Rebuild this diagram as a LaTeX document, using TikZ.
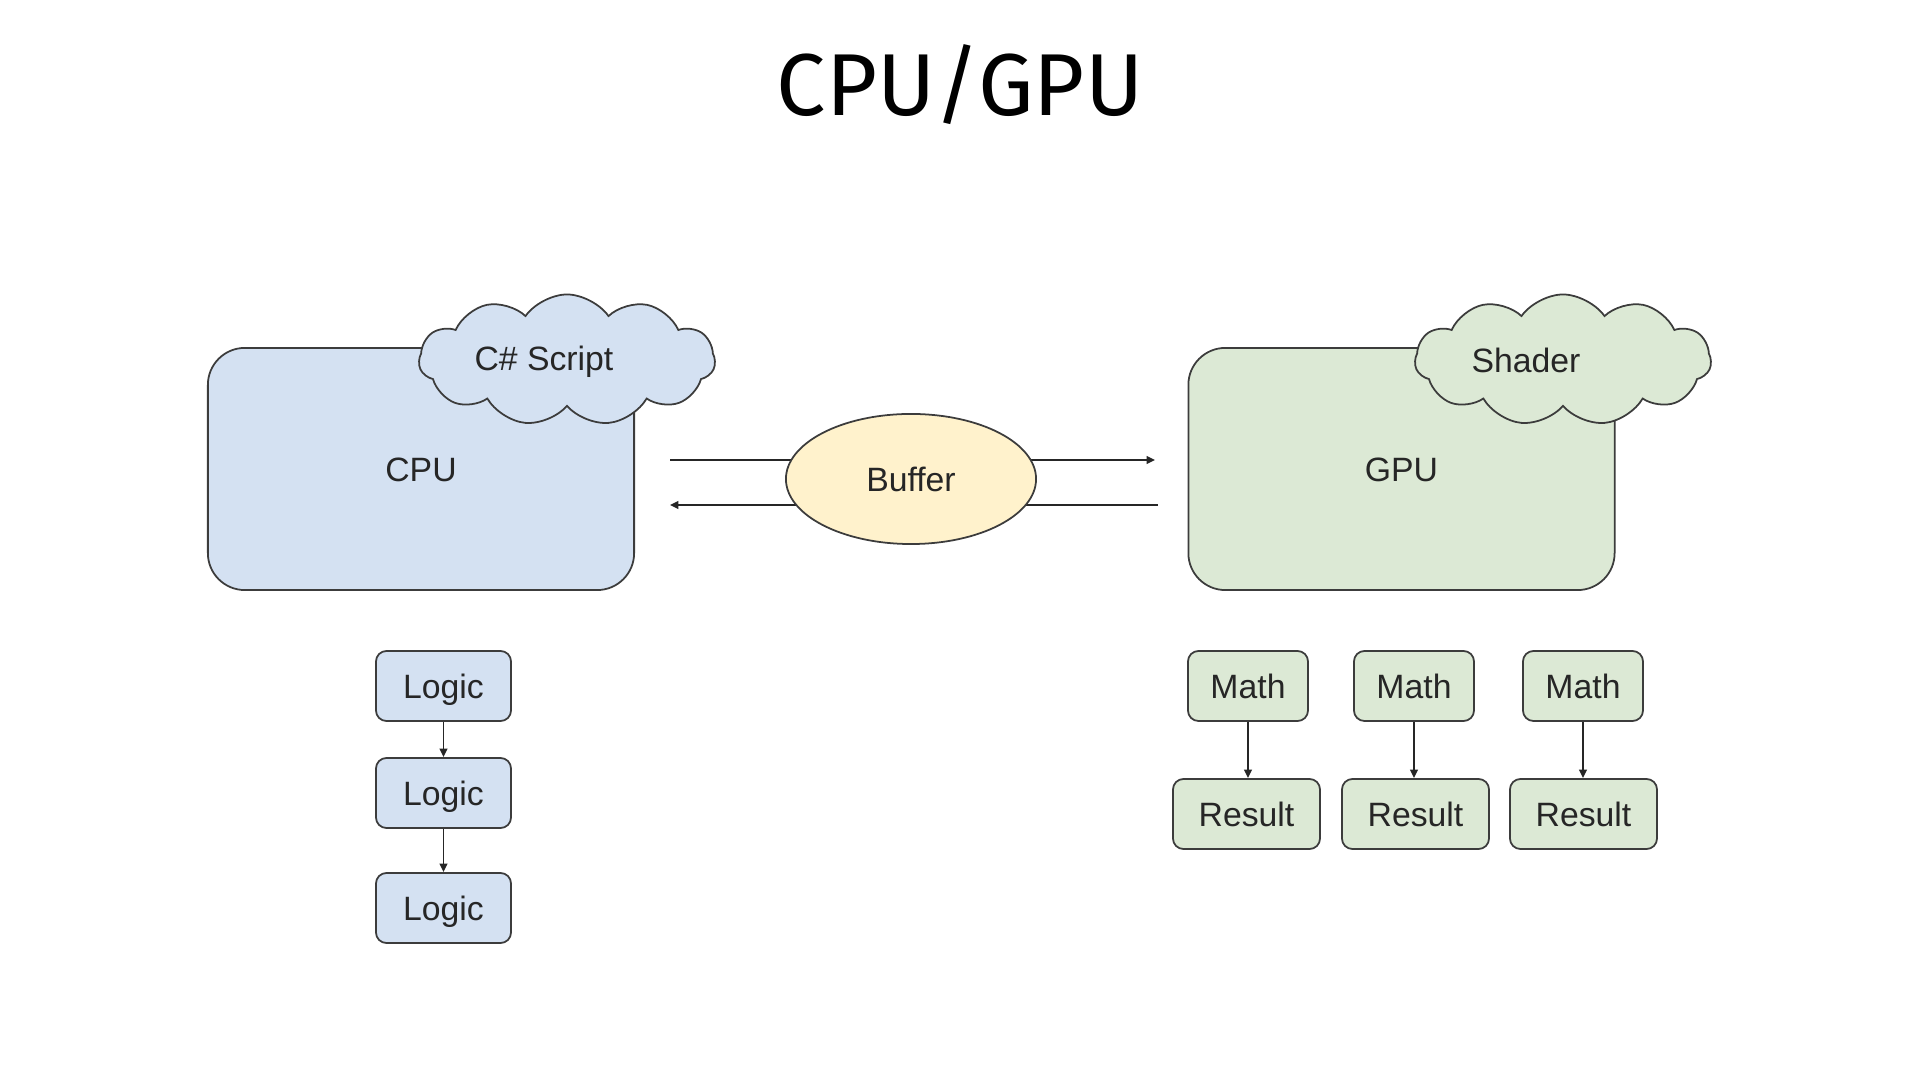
\documentclass[tikz,border=0pt]{standalone}
\usepackage{fontspec}
\setmainfont{Liberation Sans}
\newfontfamily\titlefont{Fira Sans}
\usetikzlibrary{arrows.meta,shapes.geometric,shapes.symbols,positioning}
\definecolor{cpublue}{HTML}{D4E1F2}
\definecolor{gpugreen}{HTML}{DCE9D5}
\definecolor{bufyellow}{HTML}{FFF2CC}
\definecolor{edgegray}{HTML}{3C3C3C}

\begin{document}
\begin{tikzpicture}[x=0.01cm, y=-0.01cm, >={Triangle[length=2.4pt,width=2.2pt]},
  every node/.style={font=\fontsize{9.6}{11}\selectfont, text=black!85, text height=0.716em, text depth=0pt},
  bigbox/.style={draw=edgegray, line width=0.5pt, rounded corners=10.5pt, minimum width=4.26cm, minimum height=2.42cm, inner sep=0pt},
  smallbox/.style={draw=edgegray, line width=0.5pt, rounded corners=3pt, minimum height=0.7cm, inner sep=0pt},
  puff/.style={cloud, cloud puffs=11, cloud puff arc=110, aspect=2.3, draw=edgegray, line width=0.5pt, minimum width=2.96cm, minimum height=1.31cm, inner sep=0pt},
  flow/.style={->, draw=black!85, line width=0.5pt}]

  \useasboundingbox (0,0) rectangle (1920,1080);
  % 标题
  \node[font=\titlefont\fontsize{25}{28}\selectfont, text=black, anchor=base] (title) at (960,116) {CPU/GPU};

  % 两个大框和云
  \node[bigbox, fill=cpublue] (cpu) at (421,469) {CPU};
  \node[bigbox, fill=gpugreen] (gpu) at (1401.5,469) {GPU};
  \node[puff, fill=cpublue, label={[xshift=-0.23cm, yshift=0.02cm]center:C\# Script}] (script) at (567,360) {};
  \node[puff, fill=gpugreen, label={[xshift=-0.37cm]center:Shader}] (shader) at (1563,360) {};

  % 中间的 Buffer 与来回箭头
  \coordinate (cpuout) at (670,460);
  \coordinate (gpuin) at (1155,460);
  \coordinate (gpuout) at (1158,505);
  \coordinate (cpuin) at (670,505);
  \draw[flow] (cpuout) -- (gpuin);
  \draw[flow] (gpuout) -- (cpuin);
  \node[ellipse, draw=edgegray, fill=bufyellow, line width=0.5pt, minimum width=2.5cm, minimum height=1.3cm, inner sep=0pt] (buffer) at (911,479) {Buffer};

  % CPU: 串行
  \node[smallbox, fill=cpublue, minimum width=1.35cm] (logic1) at (443.5,686) {Logic};
  \node[smallbox, fill=cpublue, minimum width=1.35cm] (logic2) at (443.5,793) {Logic};
  \node[smallbox, fill=cpublue, minimum width=1.35cm] (logic3) at (443.5,908) {Logic};
  \draw[flow] (logic1) -- (logic2);
  \draw[flow] (logic2) -- (logic3);

  % GPU: 并行
  \foreach \i/\mx/\rx in {1/1248/1246.5, 2/1414/1415.5, 3/1583/1583.5} {
    \node[smallbox, fill=gpugreen, minimum width=1.2cm] (math\i) at (\mx,686) {Math};
    \node[smallbox, fill=gpugreen, minimum width=1.47cm] (result\i) at (\rx,814) {Result};
    \draw[flow] (math\i) -- (math\i |- result\i.north);
  }
\end{tikzpicture}
\end{document}
